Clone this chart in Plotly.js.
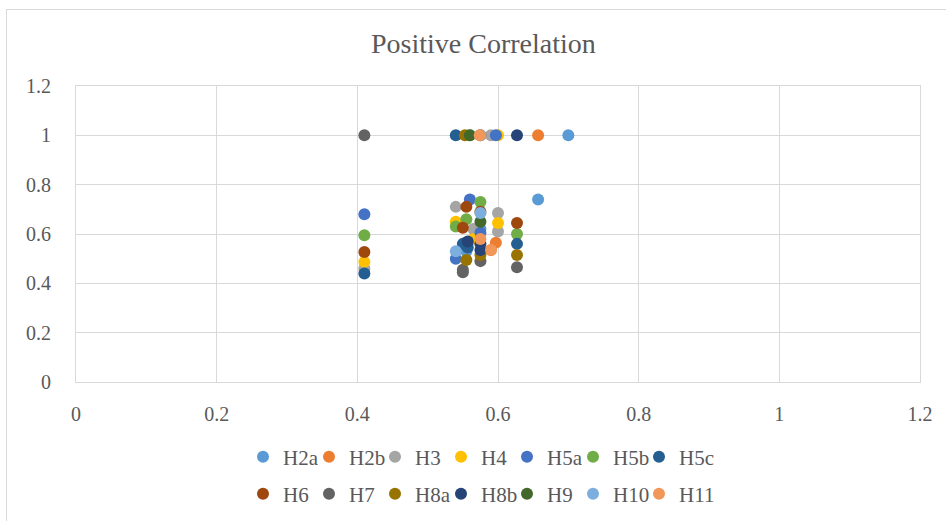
<!DOCTYPE html>
<html>
<head>
<meta charset="utf-8">
<script src="https://cdn.plot.ly/plotly-3.0.1.min.js"></script>
<style>
html,body{margin:0;padding:0;background:#fff;overflow:hidden;}
#chart{width:946px;height:521px;position:absolute;left:0;top:0;}
#frame{position:absolute;left:6px;top:9px;width:980px;height:560px;border:1px solid #d9d9d9;pointer-events:none;}
</style>
</head>
<body>
<div id="chart"></div>
<div id="frame"></div>
<script>
const seriesNames = ["H2a","H2b","H3","H4","H5a","H5b","H5c","H6","H7","H8a","H8b","H9","H10","H11"];
const seriesColors = ["#5B9BD5","#ED7D31","#A5A5A5","#FFC000","#4472C4","#70AD47","#255E91","#9E480E","#636363","#997300","#264478","#43682B","#7CAFDD","#F1975A"];

const xH2a = [0.700, 0.657, 0.575, 0.555];
const yH2a = [1.000, 0.740, 0.620, 0.530];
const xH2b = [0.657, 0.590, 0.597];
const yH2b = [1.000, 0.535, 0.565];
const xH3  = [0.590, 0.410, 0.540, 0.600, 0.600, 0.565];
const yH3  = [1.000, 0.460, 0.710, 0.685, 0.610, 0.620];
const xH4  = [0.600, 0.410, 0.540, 0.600, 0.565];
const yH4  = [1.000, 0.487, 0.650, 0.645, 0.580];
const xH5a = [0.597, 0.410, 0.560, 0.575, 0.540];
const yH5a = [1.000, 0.680, 0.740, 0.605, 0.500];
const xH5b = [0.560, 0.410, 0.575, 0.540, 0.627, 0.555];
const yH5b = [1.000, 0.595, 0.730, 0.630, 0.600, 0.660];
const xH5c = [0.540, 0.410, 0.627, 0.550, 0.557];
const yH5c = [1.000, 0.440, 0.560, 0.560, 0.545];
const xH6  = [0.575, 0.410, 0.555, 0.550, 0.627, 0.575];
const yH6  = [1.000, 0.527, 0.710, 0.625, 0.645, 0.690];
const xH7  = [0.410, 0.550, 0.575, 0.627, 0.550];
const yH7  = [1.000, 0.445, 0.490, 0.465, 0.455];
const xH8a = [0.553, 0.555, 0.575, 0.627];
const yH8a = [1.000, 0.495, 0.515, 0.515];
const xH8b = [0.627, 0.575, 0.575, 0.557];
const yH8b = [1.000, 0.560, 0.535, 0.570];
const xH9  = [0.560, 0.575];
const yH9  = [1.000, 0.650];
const xH10 = [0.575, 0.575, 0.540];
const yH10 = [1.000, 0.685, 0.530];
const xH11 = [0.574, 0.590, 0.575];
const yH11 = [1.000, 0.535, 0.580];

const xs = [xH2a,xH2b,xH3,xH4,xH5a,xH5b,xH5c,xH6,xH7,xH8a,xH8b,xH9,xH10,xH11];
const ys = [yH2a,yH2b,yH3,yH4,yH5a,yH5b,yH5c,yH6,yH7,yH8a,yH8b,yH9,yH10,yH11];

const tickVals = [0,0.2,0.4,0.6,0.8,1,1.2];
const tickText = ["0","0.2","0.4","0.6","0.8","1","1.2"];

const font = "Times New Roman, Liberation Serif, serif";
const traces = seriesNames.map((n,i)=>({
  type:"scatter", mode:"markers", name:n, x:xs[i], y:ys[i],
  marker:{color:seriesColors[i], size:12},
  legend: i < 7 ? "legend" : "legend2"
}));
// invisible spacer entries so the last legend label of each row is not clipped
["legend","legend2"].forEach(l => traces.push({
  type:"scatter", mode:"markers", name:" ", x:[null], y:[null],
  marker:{color:"rgba(0,0,0,0)", size:1}, legend:l, hoverinfo:"skip"
}));

const legendCommon = {
  orientation:"h", xref:"container", yref:"container",
  xanchor:"left", yanchor:"middle",
  font:{family:font, size:21, color:"#595959"},
  entrywidth:21, entrywidthmode:"pixels",
  bgcolor:"rgba(0,0,0,0)", traceorder:"normal"
};

const layout = {
  width:946, height:521,
  paper_bgcolor:"#fff", plot_bgcolor:"#fff",
  font:{family:font, color:"#595959"},
  margin:{l:76, r:26, t:86, b:139},
  title:{text:"Positive Correlation", xref:"container", x:0.511, xanchor:"center",
         yref:"container", y:1-43/521, yanchor:"middle",
         font:{family:font, size:28, color:"#595959"}},
  xaxis:{range:[0,1.2], tickvals:tickVals, ticktext:tickText, showgrid:true, gridcolor:"#d9d9d9",
         zeroline:false, showline:true, mirror:true, linecolor:"#d9d9d9", linewidth:1,
         ticks:"", ticklabelstandoff:14, fixedrange:true,
         tickfont:{family:font, size:20, color:"#595959"}},
  yaxis:{range:[0,1.2], tickvals:tickVals, ticktext:tickText, showgrid:true, gridcolor:"#d9d9d9",
         zeroline:false, showline:true, mirror:true, linecolor:"#d9d9d9", linewidth:1,
         ticks:"", ticklabelstandoff:20, fixedrange:true,
         tickfont:{family:font, size:20, color:"#595959"}},
  legend:Object.assign({}, legendCommon, {x:243/946, y:1-457/521}),
  legend2:Object.assign({}, legendCommon, {x:243/946, y:1-494/521}),
  showlegend:true
};

Plotly.newPlot("chart", traces, layout, {displayModeBar:false, staticPlot:true});
</script>
</body>
</html>
